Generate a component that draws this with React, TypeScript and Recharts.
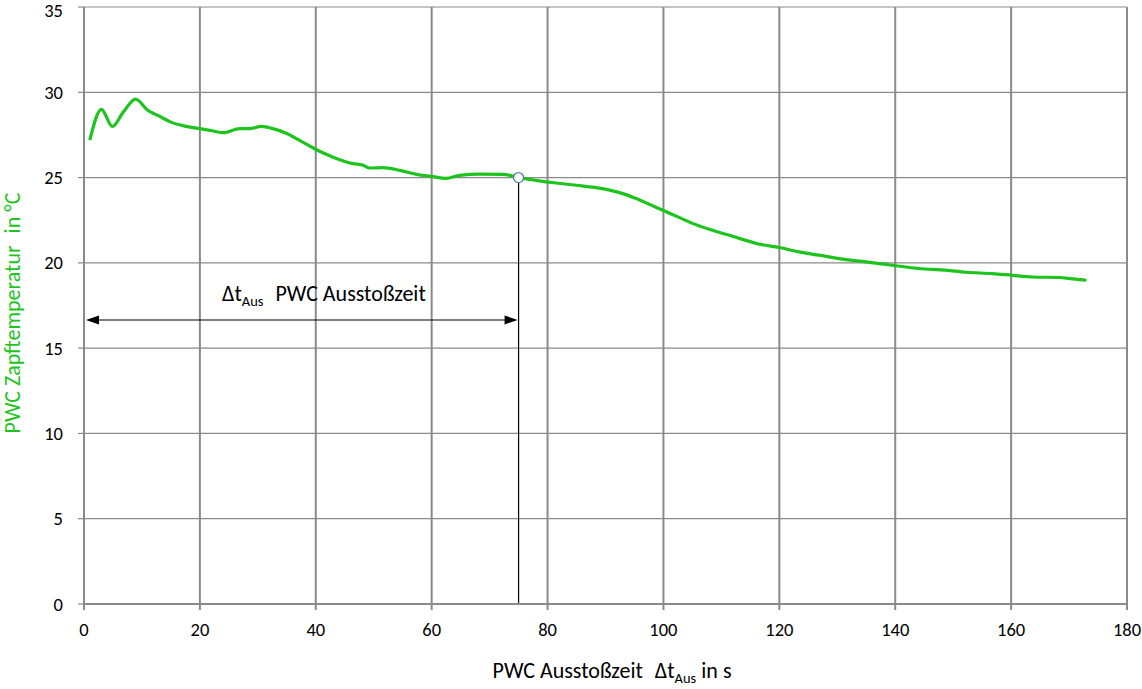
import React from 'react';
import { LineChart, Line, XAxis, YAxis, CartesianGrid, ReferenceLine, ReferenceDot } from 'recharts';

// Ausstoßzeit in s
const zeit = [
  1, 3, 4.9, 6.8, 8.9, 11, 13, 15, 17.7, 20, 22.3, 24, 26.9, 28.6, 30.6, 32.6, 34.9, 37.2, 39.5, 41.3,
  44.1, 46.4, 48.2, 49.3, 51.6, 54.5, 57.4, 59.9, 62.5, 64.8, 68.3, 72.3, 75, 78, 81.5, 84.9, 89.5, 93,
  95.3, 97.6, 99.9, 102.8, 105.1, 108.5, 111.9, 116.6, 120, 123.4, 126.9, 131.5, 134.9, 139.5, 144.1,
  148.7, 152.2, 156.8, 160.2, 163.7, 168.3, 170.6, 173,
];

// Zapftemperatur in °C
const temperatur = [
  27.2, 29.0, 28.0, 28.85, 29.6, 28.95, 28.6, 28.25, 28.0, 27.87, 27.73, 27.63, 27.87, 27.87, 28.0, 27.87,
  27.6, 27.18, 26.75, 26.44, 26.05, 25.82, 25.72, 25.56, 25.58, 25.42, 25.19, 25.07, 24.95, 25.13, 25.2,
  25.19, 25.0, 24.84, 24.68, 24.55, 24.35, 24.06, 23.77, 23.43, 23.08, 22.65, 22.3, 21.91, 21.56, 21.09,
  20.9, 20.64, 20.45, 20.19, 20.06, 19.86, 19.67, 19.57, 19.45, 19.37, 19.27, 19.17, 19.14, 19.06, 18.98,
];

const xTicks = [0, 20, 40, 60, 80, 100, 120, 140, 160, 180];
const yTicks = [0, 5, 10, 15, 20, 25, 30, 35];

// Ausstoßzeitpunkt und Höhe des Pfeils
const ausstossZeit = 75;
const ausstossTemp = 25;
const pfeilHoehe = 16.65;

const data = zeit.map((t, i) => ({ t, temp: temperatur[i] }));

const FONT = 'Carlito, "Open Sans", sans-serif';
const GREEN = '#1dc41d';
const GRID = '#8a8a8a';

function DoubleArrow(props: any) {
  const { x1, y1, x2, y2 } = props;
  const len = 13;
  const half = 4.5;
  return (
    <g>
      <line x1={x1 + len} y1={y1} x2={x2 - len} y2={y2} stroke="#000" strokeWidth={1.2} />
      <polygon points={`${x1 + 2},${y1} ${x1 + 2 + len},${y1 - half} ${x1 + 2 + len},${y1 + half}`} fill="#000" />
      <polygon points={`${x2 - 1},${y2} ${x2 - 1 - len},${y2 - half} ${x2 - 1 - len},${y2 + half}`} fill="#000" />
    </g>
  );
}

function ArrowText(props: any) {
  const { cx, cy } = props;
  return (
    <text x={cx} y={cy} textAnchor="middle" fontFamily={FONT} fontSize={22} fill="#000">
      <tspan>Δt</tspan>
      <tspan fontSize={14.5} dy={5}>Aus</tspan>
      <tspan dy={-5} dx={12}>PWC Ausstoßzeit</tspan>
    </text>
  );
}

function YLabel() {
  const x = 20;
  const y = 313;
  return (
    <text x={x} y={y} transform={`rotate(-90 ${x} ${y})`} textAnchor="middle" fontFamily={FONT} fontSize={22} fill={GREEN}>
      <tspan>PWC Zapftemperatur</tspan>
      <tspan dx={12}>in °C</tspan>
    </text>
  );
}

function XLabel() {
  const x = 612;
  const y = 678;
  return (
    <text x={x} y={y} textAnchor="middle" fontFamily={FONT} fontSize={22} fill="#000">
      <tspan>PWC Ausstoßzeit</tspan>
      <tspan dx={12}>Δt</tspan>
      <tspan fontSize={14.5} dy={5}>Aus</tspan>
      <tspan dy={-5} dx={5}>in s</tspan>
    </text>
  );
}

export default function App() {
  return (
    <div style={{ position: 'absolute', left: 0, top: 0, background: '#fff' }}>
      <LineChart width={1142} height={689} data={data} margin={{ top: 7, right: 15, left: 0, bottom: 0 }}>
        <CartesianGrid horizontal={false} stroke={GRID} strokeWidth={2} />
        <CartesianGrid vertical={false} stroke={GRID} strokeWidth={1.2} />
        <XAxis
          dataKey="t"
          type="number"
          domain={[0, 180]}
          ticks={xTicks}
          height={85}
          stroke={GRID}
          strokeWidth={2}
          tickSize={6}
          tickMargin={13}
          tick={{ fill: '#000', fontSize: 18.5, fontFamily: FONT }}
          tickLine={{ stroke: GRID, strokeWidth: 2 }}
          label={<XLabel />}
        />
        <YAxis
          type="number"
          domain={[0, 35]}
          ticks={yTicks}
          width={84}
          stroke={GRID}
          strokeWidth={2}
          tickSize={6}
          tickMargin={15}
          tick={{ fill: '#000', fontSize: 18.5, fontFamily: FONT }}
          tickLine={{ stroke: GRID, strokeWidth: 1.2 }}
          label={<YLabel />}
        />
        <Line
          dataKey="temp"
          type="monotone"
          stroke={GREEN}
          strokeWidth={3.2}
          dot={false}
          activeDot={false}
          isAnimationActive={false}
        />
        <ReferenceLine
          segment={[{ x: ausstossZeit, y: ausstossTemp }, { x: ausstossZeit, y: 0 }]}
          stroke="#000"
          strokeWidth={1.2}
        />
        <ReferenceLine
          segment={[{ x: 0, y: pfeilHoehe }, { x: ausstossZeit, y: pfeilHoehe }]}
          shape={<DoubleArrow />}
        />
        <ReferenceDot x={41.4} y={17.75} r={0} shape={<ArrowText />} />
        <ReferenceDot x={ausstossZeit} y={ausstossTemp} r={5} fill="#fff" stroke="#5a7aa8" strokeWidth={1.3} />
      </LineChart>
    </div>
  );
}
